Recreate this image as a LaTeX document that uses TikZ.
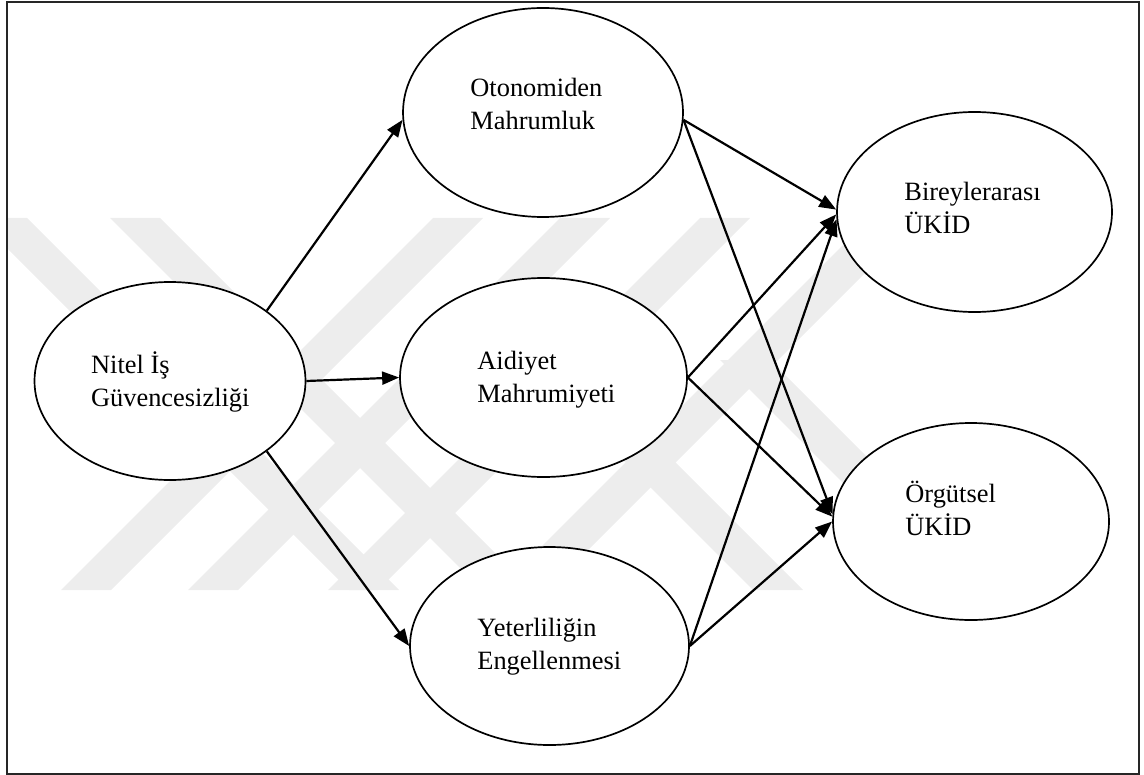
\documentclass[tikz,border=0pt]{standalone}
\usepackage{fontspec}
\setmainfont{Liberation Serif}
\usetikzlibrary{arrows.meta,shapes.geometric}
\begin{document}
\begin{tikzpicture}[x=0.5pt,y=-0.5pt,
  ell/.style={draw, ellipse, fill=white, line width=0.85pt, inner sep=0pt},
  txt/.style={anchor=base west, align=left, inner sep=0pt, font=\fontsize{13.2pt}{16.5pt}\selectfont},
  conn/.style={line width=1.1pt, -{Triangle[length=8.5pt,width=6.5pt]}},
  wm/.style={fill=black!7, draw=none}]
\useasboundingbox (0,0) rectangle (1144,775);
% watermark
\begin{scope}
\clip (8,218) rectangle (1138,590);
% "\" bands: top x, start y
\foreach \a/\s in {-23/218,110/218,381/330,578/360}
  \fill[wm] (\a+\s-218,\s) -- (\a+\s-168,\s) -- (\a+422,590) -- (\a+372,590) -- cycle;
% "/" bands
\foreach \a in {433,560,700,870}
  \fill[wm] (\a,218) -- (\a+50,218) -- (\a-322,590) -- (\a-372,590) -- cycle;
\end{scope}
% frame
\draw[line width=0.7pt, black!85] (7,2) rectangle (1139,774);
% ellipses
\node[ell, minimum width=135.5pt, minimum height=99pt]   (nit) at (170,381) {};
\node[ell, minimum width=140pt,   minimum height=104.5pt] (oto) at (543,112.5) {};
\node[ell, minimum width=143.5pt, minimum height=99.5pt] (aid) at (543.5,377.5) {};
\node[ell, minimum width=139.5pt, minimum height=99pt]   (yet) at (549.5,646) {};
\node[ell, minimum width=137.5pt, minimum height=100pt]  (bir) at (974.5,212) {};
\node[ell, minimum width=138pt,   minimum height=98.5pt] (org) at (971,521.5) {};
% texts (anchor = baseline of the last line)
\node[txt] (tnit) at (90.7,406) {Nitel İş\\Güvencesizliği};
\node[txt] (toto) at (470,130) {Otonomiden\\Mahrumluk};
\node[txt] (taid) at (477,402) {Aidiyet\\Mahrumiyeti};
\node[txt] (tyet) at (477,669) {Yeterliliğin\\Engellenmesi};
\node[txt] (tbir) at (904,234) {Bireylerarası\\ÜKİD};
\node[txt] (torg) at (905,535) {Örgütsel\\ÜKİD};
% connectors
\draw[conn] (nit.36) -- (oto.183);
\draw[conn] (nit.east) -- (aid.west);
\draw[conn] (nit.-36) -- (yet.west);
\draw[conn] (oto.-3) -- (bir.179);
\draw[conn] (oto.-3) -- (org.177);
\draw[conn] (aid.east) -- (bir.181.5);
\draw[conn] (aid.east) -- (org.178.5);
\draw[conn] (yet.east) -- (bir.183);
\draw[conn] (yet.east) -- (org.180.5);
\end{tikzpicture}
\end{document}
